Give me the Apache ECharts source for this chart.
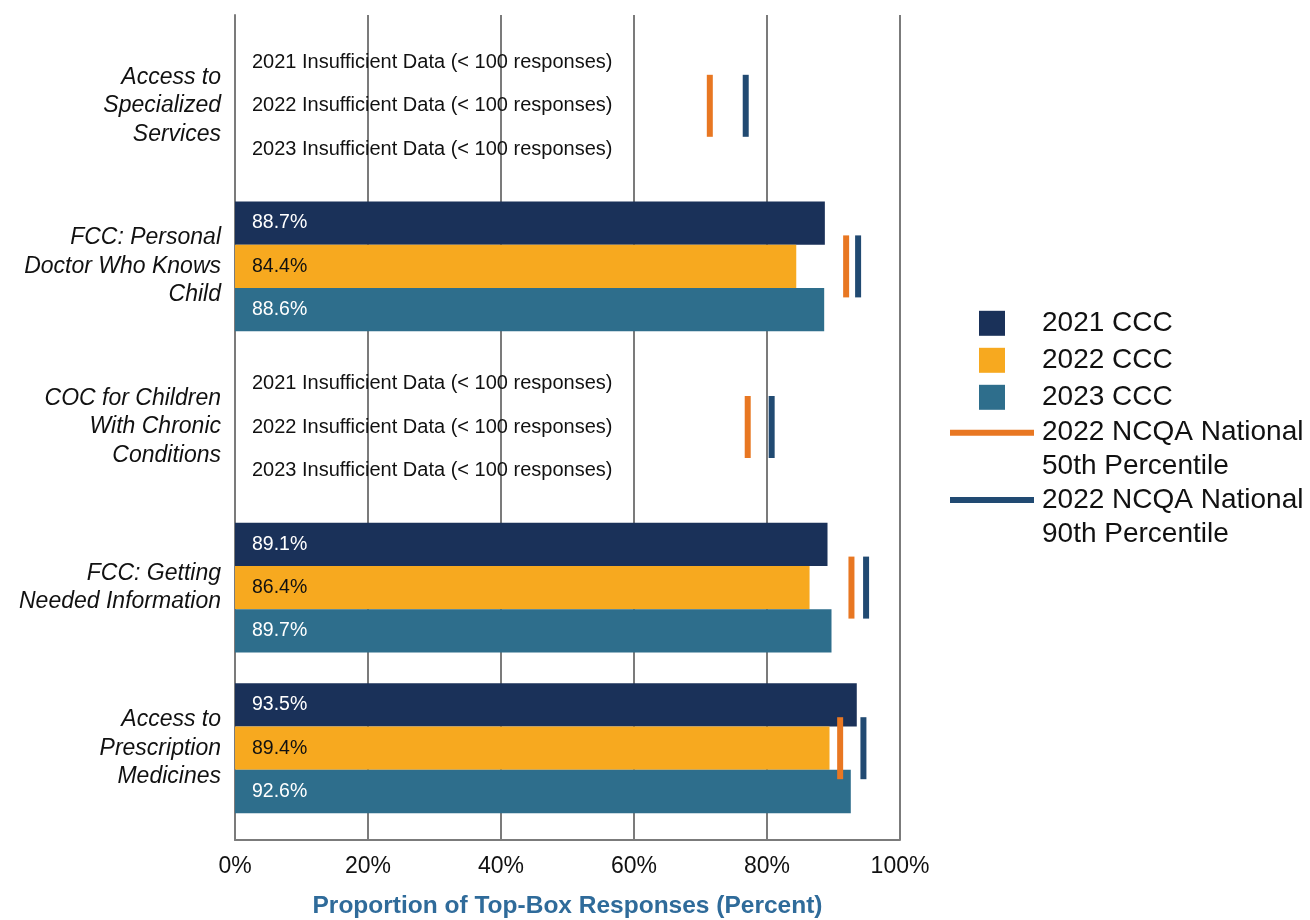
<!DOCTYPE html>
<html>
<head>
<meta charset="utf-8">
<script src="https://cdn.jsdelivr.net/npm/echarts@6/dist/echarts.min.js"></script>
<style>
  html, body { margin: 0; padding: 0; background: #ffffff; }
  #chart { width: 1310px; height: 920px; }
</style>
</head>
<body>
<div id="chart"></div>
<script>
// Survey measures, listed top to bottom
const categories = [
  'Access to\nSpecialized\nServices',
  'FCC: Personal\nDoctor Who Knows\nChild',
  'COC for Children\nWith Chronic\nConditions',
  'FCC: Getting\nNeeded Information',
  'Access to\nPrescription\nMedicines'
];
const yearNames = ['2021 CCC', '2022 CCC', '2023 CCC'];
const yearTags = ['2021', '2022', '2023'];

// Top-box rates (percent); null = fewer than 100 responses
const ccc2021 = [null, 88.7, null, 89.1, 93.5];
const ccc2022 = [null, 84.4, null, 86.4, 89.4];
const ccc2023 = [null, 88.6, null, 89.7, 92.6];

// NCQA national benchmarks (percent)
const ncqa50Name = '2022 NCQA National\n50th Percentile';
const ncqa90Name = '2022 NCQA National\n90th Percentile';
const ncqa50 = [71.4, 91.9, 77.1, 92.7, 91.0];
const ncqa90 = [76.8, 93.7, 80.7, 94.9, 94.5];

// Percent axis ticks
const xTicks = [0, 20, 40, 60, 80, 100];

const FONT = '"Liberation Sans", Arial, Helvetica, sans-serif';
const GRID_GRAY = '#7b7b7b';
const barColors = ['#1a3159', '#f7a91f', '#2e6e8c'];
const barLabelColors = ['#ffffff', '#111111', '#ffffff'];

function barSeries(idx, values) {
  return {
    name: yearNames[idx],
    type: 'bar',
    xAxisIndex: 1,
    yAxisIndex: 1,
    zlevel: 1,
    z: 5,
    barWidth: 43.3,
    barGap: '0%',
    itemStyle: { color: barColors[idx], opacity: 1 },
    label: {
      show: true,
      position: 'insideLeft',
      distance: 17,
      color: barLabelColors[idx],
      fontSize: 19.5,
      fontFamily: FONT,
      formatter: p => (p.data && p.data.note) ? p.data.note : p.value.toFixed(1) + '%'
    },
    data: values.map(v => v == null
      ? { value: 0, note: yearTags[idx] + ' Insufficient Data (< 100 responses)', label: { color: '#111111', fontSize: 20 } }
      : v)
  };
}

function markerSeries(name, values, color) {
  return {
    name: name,
    type: 'scatter',
    xAxisIndex: 1,
    yAxisIndex: 1,
    zlevel: 1,
    z: 6,
    symbol: 'rect',
    symbolSize: [6, 62],
    itemStyle: { color: color, opacity: 1 },
    data: values.map((v, i) => [v, i])
  };
}

const lineLegendText = {
  fontSize: 28,
  lineHeight: 34,
  color: '#111111',
  fontFamily: FONT,
  padding: [0, 0, 0, 3]
};

const chart = echarts.init(document.getElementById('chart'), null, { renderer: 'canvas' });

chart.setOption({
  animation: false,
  backgroundColor: '#ffffff',
  textStyle: { fontFamily: FONT },
  grid: [
    // frame: gridlines, axes and ticks
    { left: 235, right: 410, top: 15, bottom: 80, outerBoundsMode: 'none' },
    // data area: category bands
    { left: 235, right: 410, top: 25.5, height: 803, outerBoundsMode: 'none' }
  ],
  xAxis: [
    {
      gridIndex: 0,
      type: 'value',
      zlevel: 0,
      z: 0,
      min: xTicks[0],
      max: xTicks[xTicks.length - 1],
      interval: xTicks[1] - xTicks[0],
      axisLine: { show: true, lineStyle: { color: GRID_GRAY, width: 2 } },
      axisTick: { show: false },
      splitLine: { show: true, lineStyle: { color: GRID_GRAY, width: 2 } },
      axisLabel: {
        formatter: '{value}%',
        fontSize: 23,
        color: '#111111',
        fontFamily: FONT,
        margin: 15
      },
      name: 'Proportion of Top-Box Responses (Percent)',
      nameLocation: 'middle',
      nameGap: 54,
      nameMoveOverlap: false,
      nameTextStyle: {
        fontSize: 24.5,
        fontWeight: 'bold',
        color: '#2f6b9a',
        fontFamily: FONT
      }
    },
    {
      gridIndex: 1,
      type: 'value',
      min: xTicks[0],
      max: xTicks[xTicks.length - 1],
      show: false,
      splitLine: { show: false },
      axisLine: { show: false }
    }
  ],
  yAxis: [
    {
      gridIndex: 0,
      type: 'value',
      min: 0,
      max: 1,
      axisLine: { show: true, lineStyle: { color: GRID_GRAY, width: 2 } },
      axisTick: { show: false },
      axisLabel: { show: false },
      splitLine: { show: false }
    },
    {
      gridIndex: 1,
      type: 'category',
      data: categories,
      inverse: true,
      axisLine: { show: false },
      axisTick: { show: false },
      splitLine: { show: false },
      axisLabel: {
        fontSize: 23,
        fontStyle: 'italic',
        lineHeight: 28.5,
        align: 'right',
        margin: 14,
        color: '#111111',
        fontFamily: FONT
      }
    }
  ],
  legend: [
    {
      data: yearNames,
      orient: 'vertical',
      left: 979,
      top: 308.3,
      padding: 0,
      itemWidth: 26,
      itemHeight: 25,
      itemGap: 7,
      icon: 'rect',
      selectedMode: false,
      textStyle: { fontSize: 28, lineHeight: 30, color: '#111111', fontFamily: FONT, padding: [0, 0, 0, 32] }
    },
    {
      data: [ncqa50Name],
      orient: 'vertical',
      left: 950,
      top: 381.7,
      padding: 0,
      itemWidth: 84,
      itemHeight: 6,
      icon: 'rect',
      selectedMode: false,
      // leading blank line keeps the swatch level with the first text line
      formatter: name => '\n' + name,
      textStyle: lineLegendText
    },
    {
      data: [ncqa90Name],
      orient: 'vertical',
      left: 950,
      top: 449,
      padding: 0,
      itemWidth: 84,
      itemHeight: 6,
      icon: 'rect',
      selectedMode: false,
      formatter: name => '\n' + name,
      textStyle: lineLegendText
    }
  ],
  series: [
    barSeries(0, ccc2021),
    barSeries(1, ccc2022),
    barSeries(2, ccc2023),
    markerSeries(ncqa50Name, ncqa50, '#e87722'),
    markerSeries(ncqa90Name, ncqa90, '#214a72')
  ]
});
</script>
</body>
</html>
